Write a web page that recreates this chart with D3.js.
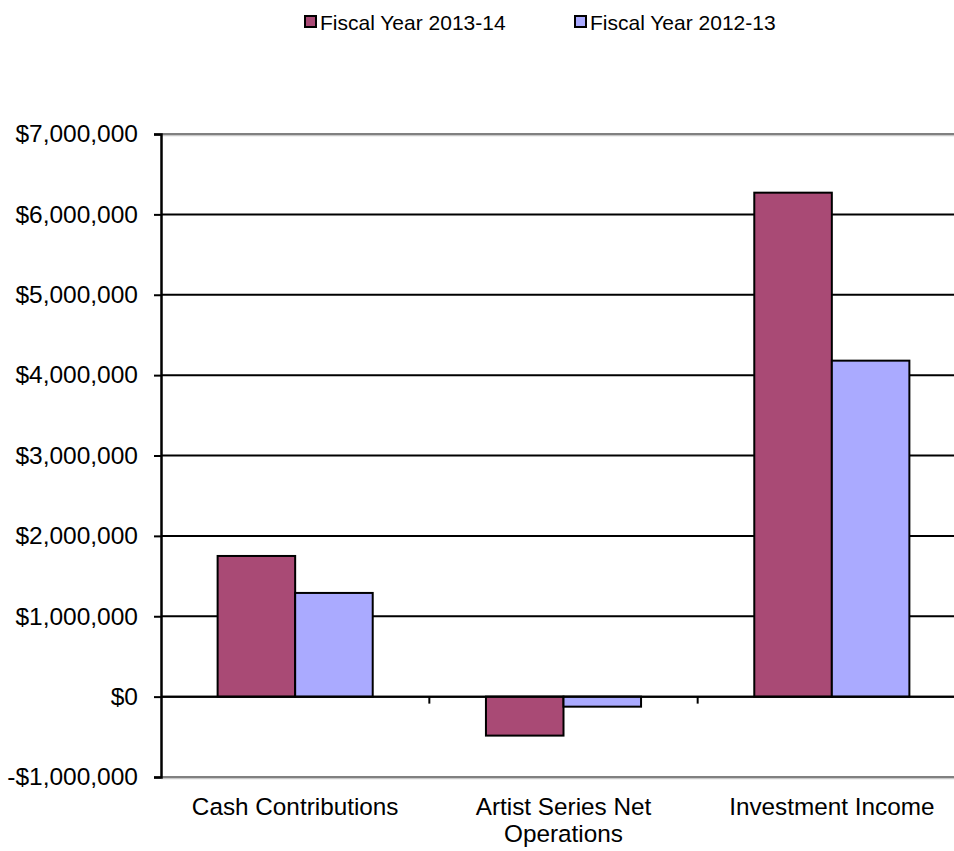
<!DOCTYPE html>
<html>
<head>
<meta charset="utf-8">
<script src="https://cdn.jsdelivr.net/npm/d3@7"></script>
<style>
  body { margin: 0; background: #fff; }
  svg { display: block; font-family: "Liberation Sans", Arial, sans-serif; }
</style>
</head>
<body>
<svg id="chart" width="954" height="851"></svg>
<script>
// chart data
const categories = ["Cash Contributions", "Artist Series Net Operations", "Investment Income"]
const categoryLines = [["Cash Contributions"], ["Artist Series Net", "Operations"], ["Investment Income"]]
const seriesNames = ["Fiscal Year 2013-14", "Fiscal Year 2012-13"]
const fy1314 = [1750000, -485000, 6270000]
const fy1213 = [1290000, -125000, 4180000]
const yTicks = [-1000000, 0, 1000000, 2000000, 3000000, 4000000, 5000000, 6000000, 7000000]
const colors = ["#A94A75", "#AAAAFF"]

const svg = d3.select("#chart")
const plot = { left: 161, right: 966, top: 134, bottom: 777 }

const y = d3.scaleLinear()
  .domain([-1000000, 7000000])
  .range([plot.bottom, plot.top])

const x0 = d3.scaleBand()
  .domain(categories)
  .range([plot.left, plot.right])
  .padding(0)

const x1 = d3.scaleBand()
  .domain(seriesNames)
  .range([x0.bandwidth() * 0.211, x0.bandwidth() * 0.789])
  .padding(0)

const fmt = v => (v < 0 ? "-$" : "$") + d3.format(",")(Math.abs(v))

// grid lines
svg.append("g")
  .selectAll("line")
  .data(yTicks.filter(d => d !== -1000000 && d !== 7000000))
  .join("line")
  .attr("x1", plot.left)
  .attr("x2", plot.right)
  .attr("y1", d => y(d))
  .attr("y2", d => y(d))
  .attr("stroke", "#000")
  .attr("stroke-width", 2)

// top and bottom frame (grey)
;[7000000, -1000000].forEach(v => {
  svg.append("line")
    .attr("x1", plot.left).attr("x2", plot.right)
    .attr("y1", y(v) + 1.5).attr("y2", y(v) + 1.5)
    .attr("stroke", "#c8c8c8").attr("stroke-width", 1.5)
  svg.append("line")
    .attr("x1", plot.left).attr("x2", plot.right)
    .attr("y1", y(v)).attr("y2", y(v))
    .attr("stroke", "#808080").attr("stroke-width", 2)
})

// bars
const rows = categories.map((c, i) => ({ cat: c, values: [fy1314[i], fy1213[i]] }))
svg.append("g")
  .selectAll("g")
  .data(rows)
  .join("g")
  .attr("transform", d => `translate(${x0(d.cat)},0)`)
  .selectAll("rect")
  .data(d => d.values.map((v, j) => ({ key: seriesNames[j], value: v, color: colors[j] })))
  .join("rect")
  .attr("x", d => x1(d.key))
  .attr("width", x1.bandwidth())
  .attr("y", d => y(Math.max(0, d.value)))
  .attr("height", d => Math.abs(y(d.value) - y(0)))
  .attr("fill", d => d.color)
  .attr("stroke", "#000")
  .attr("stroke-width", 2)

// zero line over bars
svg.append("line")
  .attr("x1", plot.left).attr("x2", plot.right)
  .attr("y1", y(0)).attr("y2", y(0))
  .attr("stroke", "#000").attr("stroke-width", 2)

// category ticks on zero line
svg.append("g")
  .selectAll("line")
  .data(categories.slice(1))
  .join("line")
  .attr("x1", d => x0(d)).attr("x2", d => x0(d))
  .attr("y1", y(0)).attr("y2", y(0) + 7)
  .attr("stroke", "#000").attr("stroke-width", 2)

// y axis
const yAxis = svg.append("g")
  .attr("transform", `translate(${plot.left},0)`)
  .call(d3.axisLeft(y).tickValues(yTicks).tickFormat(fmt).tickSize(7).tickPadding(16))
yAxis.select(".domain").attr("stroke", "#000").attr("stroke-width", 2.5)
yAxis.selectAll(".tick line").attr("stroke", "#000").attr("stroke-width", 2)
yAxis.selectAll(".tick text")
  .attr("font-size", 24.5)
  .attr("font-family", "Liberation Sans, Arial, sans-serif")
  .attr("fill", "#000")

// x labels
svg.append("g")
  .selectAll("text")
  .data(categories)
  .join("text")
  .attr("x", d => x0(d) + x0.bandwidth() / 2)
  .attr("y", 815)
  .attr("text-anchor", "middle")
  .attr("font-size", 24.3)
  .attr("fill", "#000")
  .each(function (d, i) {
    d3.select(this).selectAll("tspan")
      .data(categoryLines[i])
      .join("tspan")
      .attr("x", x0(d) + x0.bandwidth() / 2)
      .attr("dy", (t, k) => k === 0 ? 0 : 27)
      .text(t => t)
  })

// legend
const legendX = [305, 575]
const legend = svg.append("g")
  .selectAll("g")
  .data(seriesNames)
  .join("g")
  .attr("transform", (d, i) => `translate(${legendX[i]},16)`)
legend.append("rect")
  .attr("width", 11).attr("height", 11)
  .attr("fill", (d, i) => colors[i])
  .attr("stroke", "#000").attr("stroke-width", 2)
legend.append("text")
  .attr("x", 15).attr("y", 14)
  .attr("font-size", 21)
  .attr("fill", "#000")
  .text(d => d)
</script>
</body>
</html>
